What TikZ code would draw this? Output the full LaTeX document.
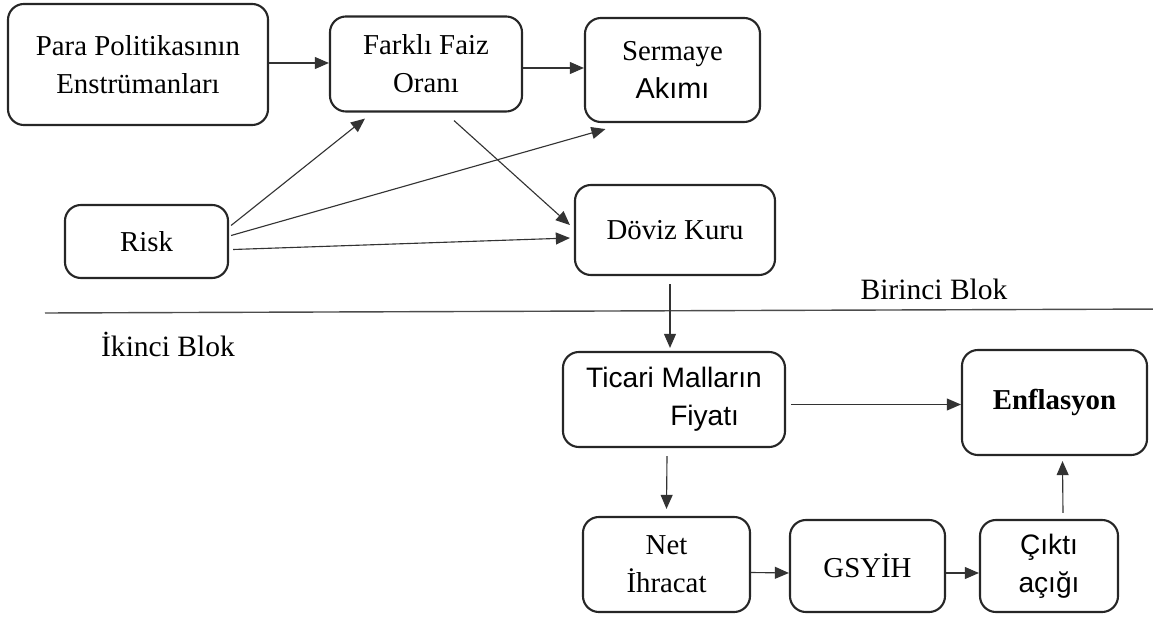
\documentclass[tikz,border=0pt]{standalone}
\usepackage{fontspec}
\setmainfont{Liberation Serif}
\setsansfont{Liberation Sans}
\usetikzlibrary{arrows.meta,calc}
\begin{document}
\begin{tikzpicture}[x=0.025cm,y=-0.025cm,
  box/.style={draw=black!85,line width=1.5pt,rounded corners=0.4cm,inner sep=0pt,align=center,font=\fontsize{20.5}{27}\selectfont},
  arr/.style={draw=black!80,line width=0.8pt,-{Triangle[length=10pt,width=8.5pt]}},
  lbl/.style={font=\fontsize{21}{24}\selectfont}]
\useasboundingbox (0,0) rectangle (1153,623);
\node[box,minimum width=6.5cm,minimum height=3.025cm] (para) at (138,64.5) {Para Politikasının\\Enstrümanları};
\node[box,minimum width=4.8cm,minimum height=2.375cm] (farkli) at (426,64) {Farklı Faiz\\Oranı};
\node[box,minimum width=4.375cm,minimum height=2.6cm] (sermaye) at (672.5,70) {Sermaye\\{\sffamily Akımı}};
\node[box,minimum width=4.075cm,minimum height=1.825cm] (risk) at (146.5,241.5) {Risk};
\node[box,minimum width=5.0cm,minimum height=2.25cm] (doviz) at (675,230) {Döviz Kuru};
\node[box,minimum width=5.55cm,minimum height=2.375cm,align=left,font=\sffamily\fontsize{20}{27}\selectfont] (ticari) at (674,399.5) {Ticari Malların\\\hspace*{2.1cm}Fiyatı};
\node[box,minimum width=4.625cm,minimum height=2.625cm,font=\bfseries\fontsize{20.5}{26}\selectfont] (enf) at (1054.5,402.5) {Enflasyon};
\node[box,minimum width=4.175cm,minimum height=2.375cm] (net) at (666.5,564.5) {Net\\İhracat};
\node[box,minimum width=3.875cm,minimum height=2.3cm] (gsyih) at (867.5,566) {GSYİH};
\node[box,minimum width=3.45cm,minimum height=2.3cm,font=\sffamily\fontsize{20}{27}\selectfont] (cikti) at (1049,566) {Çıktı\\açığı};
% divider
\coordinate (dl) at (45,313);
\coordinate (dr) at (1170,309);
\draw[line width=1pt,black!70] (dl) -- (dr);
\node[lbl,anchor=base] (birinci) at (934,300) {Birinci Blok};
\node[lbl,anchor=base] (ikinci) at (168,356) {İkinci Blok};
% arrows
\draw[arr] (para.east |- 0,63) -- (farkli.west |- 0,63);
\draw[arr] (farkli.east |- 0,68) -- (sermaye.west |- 0,68);
\draw[arr] ($(risk.east)+(2,-16)$) -- ($(farkli.south)+(-61,6)$);
\draw[arr] ($(risk.east)+(2,-6)$) -- ($(sermaye.south)+(-67,6)$);
\draw[arr] ($(risk.east)+(4,8)$) -- ($(doviz.west)+(-4,8)$);
\draw[arr] ($(farkli.south)+(28,8)$) -- ($(doviz.west)+(-4,-5)$);
\draw[arr] ($(doviz.south)+(-5,8)$) -- ($(ticari.north)+(-4,-3)$);
\draw[arr] ($(ticari.east)+(5,5)$) -- ($(enf.west)+(0,2)$);
\draw[arr] ($(ticari.south)+(-7,8)$) -- ($(net.north)+(0,-7)$);
\draw[arr] ($(net.east)+(0,8)$) -- ($(gsyih.west)+(0,7)$);
\draw[arr] ($(gsyih.east)+(0,7)$) -- ($(cikti.west)+(0,7)$);
\draw[arr] ($(cikti.north)+(14,-6)$) -- ($(enf.south)+(8,5)$);
\end{tikzpicture}
\end{document}
